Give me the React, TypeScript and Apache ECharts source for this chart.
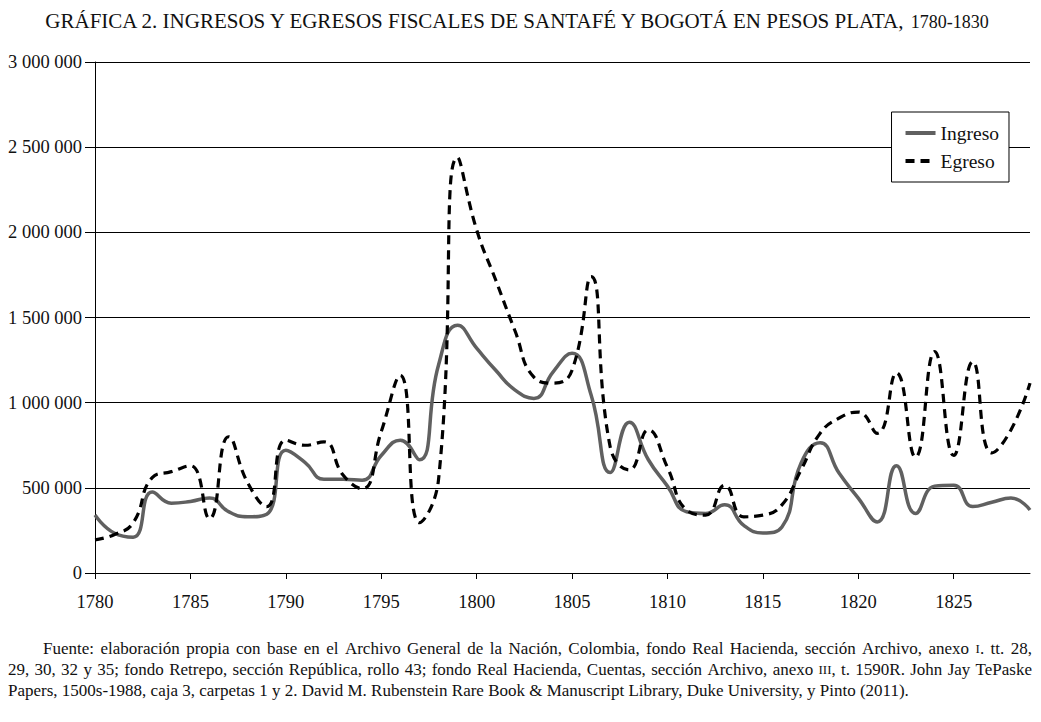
import React, { useEffect, useRef } from "react";
import * as echarts from "echarts";

const years: string[] = [];
for (let y = 1780; y <= 1829; y++) years.push(String(y));

const ingreso = [
  340000, 235000, 210000, 475000, 410000, 420000, 440000, 360000, 330000, 345000,
  720000, 650000, 550000, 550000, 545000, 690000, 780000, 665000, 1220000, 1455000,
  1320000, 1190000, 1075000, 1025000, 1180000, 1290000, 1045000, 590000, 885000, 665000,
  510000, 360000, 350000, 400000, 280000, 235000, 270000, 645000, 765000, 585000,
  440000, 300000, 630000, 350000, 510000, 515000, 390000, 415000, 440000, 370000,
];

const egreso = [
  195000, 225000, 295000, 560000, 595000, 630000, 320000, 800000, 530000, 390000,
  780000, 750000, 770000, 575000, 495000, 830000, 1160000, 295000, 545000, 2440000,
  2015000, 1720000, 1425000, 1150000, 1115000, 1190000, 1740000, 740000, 605000, 840000,
  620000, 370000, 340000, 515000, 330000, 340000, 400000, 605000, 820000, 910000,
  945000, 820000, 1175000, 680000, 1300000, 690000, 1240000, 705000, 840000, 1115000,
];

const seriesNames = ["Ingreso", "Egreso"];

const titleMain = "GRÁFICA 2. INGRESOS Y EGRESOS FISCALES DE SANTAFÉ Y BOGOTÁ EN PESOS PLATA, ";
const titleYears = "1780-1830";

const footLine1 =
  "Fuente: elaboración propia con base en el Archivo General de la Nación, Colombia, fondo Real Hacienda, sección Archivo, anexo {sc|I}. tt. 28,";
const footLine2 =
  "29, 30, 32 y 35; fondo Retrepo, sección República, rollo 43; fondo Real Hacienda, Cuentas, sección Archivo, anexo {sc|III}, t. 1590R. John Jay TePaske";
const footLine3 =
  "Papers, 1500s-1988, caja 3, carpetas 1 y 2. David M. Rubenstein Rare Book & Manuscript Library, Duke University, y Pinto (2011).";

const SERIF = "'Liberation Serif', 'DejaVu Serif', serif";
const FOOT_SIZE = 17;
const SC_SIZE = 13;

function fmt(v: number): string {
  return String(v).replace(/\B(?=(\d{3})+(?!\d))/g, " ");
}

let measureCtx: CanvasRenderingContext2D | null = null;
function measure(str: string, size: number): number {
  if (!measureCtx) measureCtx = document.createElement("canvas").getContext("2d");
  if (!measureCtx) return str.length * size * 0.5;
  measureCtx.font = `${size}px ${SERIF}`;
  return measureCtx.measureText(str).width;
}

function tokenWidth(tok: string): number {
  const re = /\{sc\|([^}]*)\}/g;
  let w = 0;
  let last = 0;
  let m: RegExpExecArray | null;
  while ((m = re.exec(tok))) {
    w += measure(tok.slice(last, m.index), FOOT_SIZE);
    w += measure(m[1], SC_SIZE);
    last = re.lastIndex;
  }
  w += measure(tok.slice(last), FOOT_SIZE);
  return w;
}

function footStyle(text: string) {
  return {
    text,
    fontFamily: SERIF,
    fontSize: FOOT_SIZE,
    lineHeight: 20,
    fill: "#111",
    verticalAlign: "middle",
    rich: {
      sc: {
        fontFamily: SERIF,
        fontSize: SC_SIZE,
        fill: "#111",
        verticalAlign: "bottom",
        lineHeight: 20,
        padding: [0, 0, 3, 0],
      },
    },
  };
}

function justify(line: string, x0: number, x1: number, y: number) {
  const words = line.split(" ");
  const widths = words.map(tokenWidth);
  const total = widths.reduce((a, b) => a + b, 0);
  const gap = (x1 - x0 - total) / (words.length - 1);
  let x = x0;
  return words.map((w, i) => {
    const el = { type: "text", x, y, style: footStyle(w) };
    x += widths[i] + gap;
    return el;
  });
}

export default function App() {
  const ref = useRef<HTMLDivElement>(null);
  useEffect(() => {
    if (!ref.current) return;
    const chart = echarts.init(ref.current, undefined, { renderer: "svg" });
    chart.setOption({
      animation: false,
      backgroundColor: "#fff",
      grid: { left: 95, right: 11, top: 62, bottom: 149, containLabel: false },
      xAxis: {
        type: "category",
        data: years,
        boundaryGap: false,
        axisLine: { lineStyle: { color: "#000", width: 1 } },
        axisTick: { show: true, interval: 4, length: 6, lineStyle: { color: "#000" } },
        axisLabel: {
          interval: 4,
          margin: 19,
          fontFamily: SERIF,
          fontSize: 18.5,
          color: "#111",
        },
        splitLine: { show: false },
      },
      yAxis: {
        type: "value",
        min: 0,
        max: 3000000,
        interval: 500000,
        axisLine: { show: true, lineStyle: { color: "#000", width: 1 } },
        axisTick: { show: true, length: 10, lineStyle: { color: "#000" } },
        axisLabel: {
          margin: 13,
          fontFamily: SERIF,
          fontSize: 18.5,
          color: "#111",
          formatter: (v: number) => fmt(v),
        },
        splitLine: { show: true, lineStyle: { color: "#000", width: 1 } },
      },
      legend: {
        data: seriesNames,
        orient: "vertical",
        right: 32,
        top: 112,
        backgroundColor: "#fff",
        borderColor: "#000",
        borderWidth: 1,
        padding: [11, 10, 11, 12],
        itemWidth: 30,
        itemHeight: 14,
        itemGap: 8,
        itemStyle: { opacity: 0 },
        lineStyle: { width: 4 },
        textStyle: { fontFamily: SERIF, fontSize: 19.5, color: "#111" },
      },
      series: [
        {
          name: seriesNames[0],
          type: "line",
          data: ingreso,
          smooth: 0.5,
          symbol: "none",
          lineStyle: { color: "#606060", width: 3.5 },
          itemStyle: { color: "#606060" },
          z: 3,
        },
        {
          name: seriesNames[1],
          type: "line",
          data: egreso,
          smooth: 0.5,
          symbol: "none",
          lineStyle: { color: "#000", width: 3.2, type: [9, 6] },
          itemStyle: { color: "#000" },
          z: 4,
        },
      ],
      graphic: [
        {
          type: "text",
          x: 516,
          y: 21,
          style: {
            text: titleMain + "{yr|" + titleYears + "}",
            fontFamily: SERIF,
            fontSize: 21,
            lineHeight: 24,
            fill: "#111",
            align: "center",
            verticalAlign: "middle",
            rich: {
              yr: {
                fontFamily: SERIF,
                fontSize: 18,
                lineHeight: 24,
                fill: "#111",
                verticalAlign: "bottom",
                padding: [0, 0, 2, 0],
              },
            },
          },
        },
        ...justify(footLine1, 43, 1032, 648),
        ...justify(footLine2, 8, 1032, 669),
        { type: "text", x: 8, y: 690, style: footStyle(footLine3) },
      ],
    });
    return () => chart.dispose();
  }, []);
  return (
    <div
      ref={ref}
      style={{ position: "absolute", left: 0, top: 0, width: 1041, height: 722, background: "#fff" }}
    />
  );
}
